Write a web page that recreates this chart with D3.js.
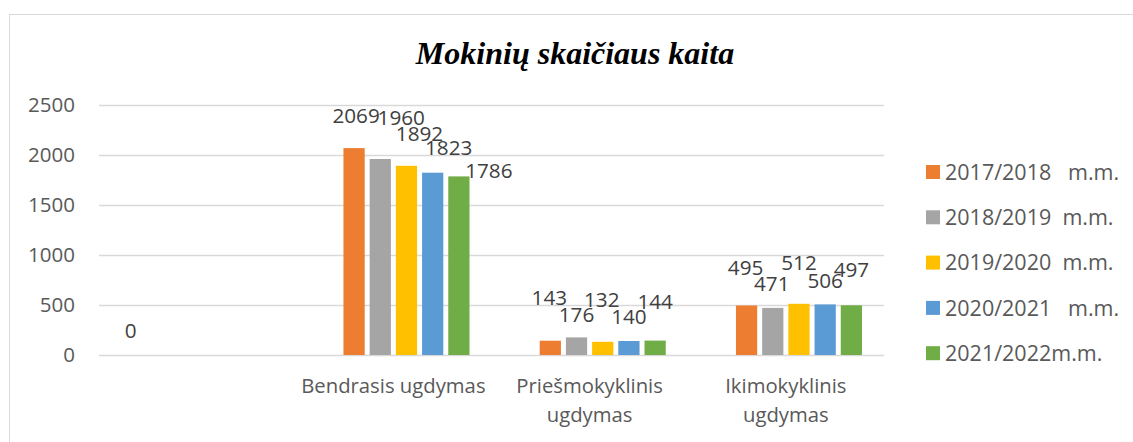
<!DOCTYPE html>
<html>
<head>
<meta charset="utf-8">
<style>
body{margin:0;background:#fff;}
svg text{font-family:"Open Sans",sans-serif;}
.axistext{font-size:20.5px;fill:#595959;font-family:"Open Sans",sans-serif;}
.catlabel{font-size:20.3px;fill:#595959;font-family:"Open Sans",sans-serif;}
.label{font-size:20.7px;fill:#404040;font-family:"Open Sans",sans-serif;}
.legtext{font-size:21.5px;fill:#595959;white-space:pre;font-family:"Open Sans",sans-serif;}
svg text.title{font-family:"Liberation Serif","Times New Roman",serif;font-style:italic;font-weight:bold;font-size:32px;fill:#000;}
</style>
</head>
<body>
<svg id="chart"></svg>
<script src="https://cdn.jsdelivr.net/npm/d3@7/dist/d3.min.js"></script>
<script>
// data
var categories = ["", "Bendrasis ugdymas", "Priešmokyklinis ugdymas", "Ikimokyklinis ugdymas"];
var categoryLines = [[""], ["Bendrasis ugdymas"], ["Priešmokyklinis", "ugdymas"], ["Ikimokyklinis", "ugdymas"]];
var seriesNames = ["", "2017/2018   m.m.", "2018/2019  m.m.", "2019/2020  m.m.", "2020/2021   m.m.", "2021/2022m.m."];
var sHidden = [0, null, null, null];
var s2017 = [null, 2069, 143, 495];
var s2018 = [null, 1960, 176, 471];
var s2019 = [null, 1892, 132, 512];
var s2020 = [null, 1823, 140, 506];
var s2021 = [null, 1786, 144, 497];
var yTicks = [0, 500, 1000, 1500, 2000, 2500];

var seriesValues = [sHidden, s2017, s2018, s2019, s2020, s2021];
var colors = ["none", "#ED7D31", "#A5A5A5", "#FFC000", "#5B9BD5", "#70AD47"];

// manual label nudges (dx, dy) like in the source chart
var labelNudge = [
  [[-1,-14], null, null, null],
  [null, [2,-23], [-1,-33], [-1,-28]],
  [null, [21,-31], [0,-13], [-1,-14]],
  [null, [13,-22], [-1,-32], [0,-31]],
  [null, [16,-15], [0,-14], [0,-14]],
  [null, [30,4], [0,-29], [0,-26]]
];

function buildChart(){
  var W = 1133, H = 442;
  var plot = {left: 99, right: 884, top: 105, bottom: 355};

  var svg = d3.select("#chart").attr("width", W).attr("height", H);

  svg.append("rect")
    .attr("x", 9.5).attr("y", 14.5)
    .attr("width", W + 20).attr("height", H + 20)
    .attr("fill", "#fff").attr("stroke", "#D9D9D9").attr("stroke-width", 1);

  svg.append("text")
    .attr("class", "title")
    .attr("x", 575).attr("y", 64)
    .attr("text-anchor", "middle")
    .text("Mokinių skaičiaus kaita");

  var y = d3.scaleLinear().domain([0, 2500]).range([plot.bottom, plot.top]);
  var x = d3.scaleBand().domain(d3.range(categories.length)).range([plot.left, plot.right]);
  var xs = d3.scaleBand().domain(d3.range(seriesNames.length))
    .range([0, x.bandwidth()]).paddingInner(0.19).paddingOuter(0.84);

  // gridlines
  var yAxis = d3.axisLeft(y).tickValues(yTicks).tickFormat(d3.format("d"))
    .tickSize(-(plot.right - plot.left)).tickPadding(24);
  var ga = svg.append("g")
    .attr("transform", "translate(" + plot.left + ",0)")
    .call(yAxis);
  ga.select(".domain").remove();
  ga.attr("font-family", null).attr("font-size", null);
  ga.selectAll(".tick line").attr("stroke", "#D9D9D9").attr("stroke-width", 1.5);
  ga.selectAll(".tick text").attr("class", "axistext").attr("fill", null);

  // bars
  seriesValues.forEach(function(vals, si){
    if (si === 0) return;
    svg.append("g").selectAll("rect")
      .data(vals.map(function(v, ci){ return {v: v, c: ci}; }).filter(function(d){ return d.v != null; }))
      .enter().append("rect")
      .attr("x", function(d){ return x(d.c) + xs(si); })
      .attr("width", xs.bandwidth())
      .attr("y", function(d){ return y(d.v); })
      .attr("height", function(d){ return y(0) - y(d.v); })
      .attr("fill", colors[si]);
  });

  // data labels
  seriesValues.forEach(function(vals, si){
    vals.forEach(function(v, ci){
      if (v == null) return;
      var n = labelNudge[si][ci] || [0, 0];
      svg.append("text")
        .attr("class", "label")
        .attr("text-anchor", "middle")
        .attr("x", x(ci) + xs(si) + xs.bandwidth() / 2 + n[0])
        .attr("y", y(v) - 10 + n[1])
        .attr("dy", "0.36em")
        .text(v);
    });
  });

  // category labels
  categoryLines.forEach(function(lines, ci){
    var t = svg.append("text")
      .attr("class", "catlabel")
      .attr("text-anchor", "middle")
      .attr("x", x(ci) + x.bandwidth() / 2)
      .attr("y", 393);
    lines.forEach(function(l, li){
      t.append("tspan")
        .attr("x", x(ci) + x.bandwidth() / 2)
        .attr("dy", li === 0 ? 0 : 29)
        .text(l);
    });
  });

  // legend
  var leg = svg.append("g");
  seriesNames.forEach(function(name, si){
    if (si === 0) return;
    var cy = 172 + (si - 1) * 45.3;
    leg.append("rect")
      .attr("x", 926).attr("y", cy - 7)
      .attr("width", 14).attr("height", 14)
      .attr("fill", colors[si]);
    leg.append("text")
      .attr("class", "legtext")
      .attr("x", 945).attr("y", cy)
      .attr("dy", "0.36em")
      .attr("xml:space", "preserve")
      .text(name);
  });
}

buildChart();
</script>
</body>
</html>
